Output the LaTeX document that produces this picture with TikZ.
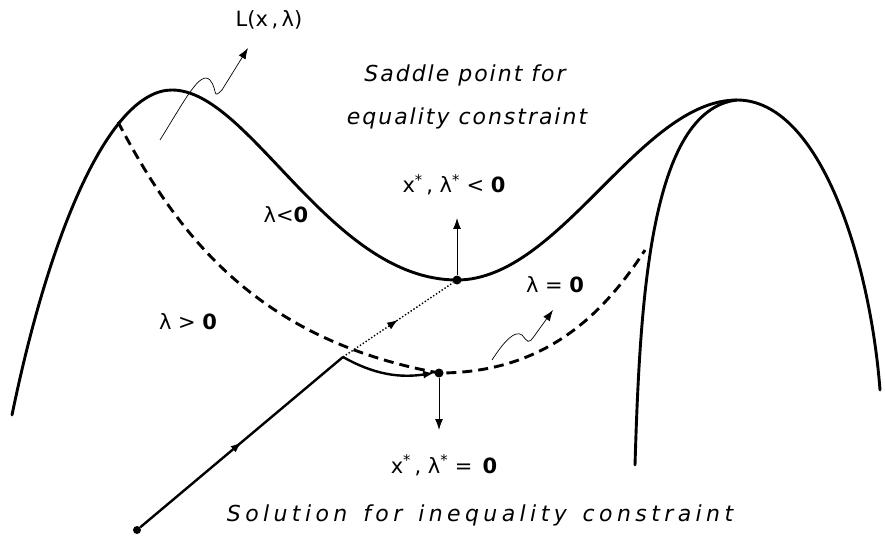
\documentclass[tikz,border=0pt]{standalone}
\usepackage{fontspec}
\setmainfont{DejaVu Sans}
\newfontfamily\wideface{DejaVu Sans}[LetterSpace=9]
\newfontfamily\widerface{DejaVu Sans}[LetterSpace=20, WordSpace=1.4]
\usetikzlibrary{arrows.meta, decorations.markings}
\tikzset{
  surface/.style={line width=2.9pt, line cap=round},
  ridge/.style={line width=2.9pt, dash pattern=on 10pt off 6pt},
  pointer/.style={-{Latex[length=11pt,width=8pt]}, line width=1pt},
  squiggle/.style={-{Latex[length=11pt,width=8pt]}, line width=0.7pt},
  track/.style={line width=2.4pt},
  midarrow/.style={postaction={decorate}, decoration={markings,
    mark=at position 0.5 with {\arrow{Latex[length=11pt,width=8pt]}}}},
  caption/.style={font=\wideface\fontsize{22}{25}\selectfont\itshape},
  lbl/.style={font=\fontsize{21}{24}\selectfont},
  dot/.style={circle, fill=black, inner sep=0pt, minimum size=9pt}
}

\begin{document}
\begin{tikzpicture}[x=1pt, y=-1pt]
  \useasboundingbox (0,0) rectangle (885,545);
  % labels
  \node[lbl] (lag) at (269,20) {L(x\,,\,λ)};
  \node[caption] (sad1) at (465,75) {Saddle point for};
  \node[caption] (sad2) at (467,118) {equality constraint};
  \node[lbl] (xneg) at (454,185) {x\textsuperscript{*}\,, λ\textsuperscript{*} < \textbf{0}};
  \node[lbl] (lamneg) at (286,215) {λ<\textbf{0}};
  \node[lbl] (lampos) at (188,322) {λ > \textbf{0}};
  \node[lbl] (lamzero) at (555,285) {λ = \textbf{0}};
  \node[lbl] (xzero) at (444,465) {x\textsuperscript{*}\,, λ\textsuperscript{*} = \,\textbf{0}};
  \node[font=\widerface\fontsize{22}{25}\selectfont\itshape] (sol) at (480,515) {Solution for inequality constraint};
  % points
  \node[dot] (saddle) at (457,280) {};
  \node[dot] (opt) at (439,373) {};
  \node[dot, minimum size=8pt] (start) at (137,530) {};
  \coordinate (kink) at (343,357);
  \coordinate (up) at (457,218);
  \coordinate (down) at (439,430);
  \coordinate (lagtip) at (248,48);
  \coordinate (zerotip) at (553,310);
  % surface L(x, lambda)
  \draw[surface] (12,415) .. controls (50,230) and (110,90) .. (172,90)
    .. controls (250,90) and (330,280) .. (saddle.center)
    .. controls (560,280) and (640,100) .. (737,100)
    .. controls (820,100) and (870,260) .. (880,390);
  \draw[surface] (635,465) .. controls (640,300) and (650,110) .. (737,100);
  % constraint curve
  \draw[ridge] (118,122) .. controls (180,240) and (260,340) .. (opt.center)
    .. controls (540,373) and (600,320) .. (645,250);
  % search path
  \draw[track, midarrow] (start) -- (kink);
  \draw[track, -{Latex[length=11pt,width=8pt]}] (kink) .. controls (375,375) and (400,378) .. (opt.west);
  \draw[line width=1.4pt, dotted, midarrow] (kink) -- (saddle);
  % pointers
  \draw[pointer] (saddle) -- (up);
  \draw[pointer] (opt) -- (down);
  \draw[squiggle] (160,140) .. controls (185,100) and (200,70) .. (210,80)
    .. controls (218,90) and (212,100) .. (222,90) -- (lagtip);
  \draw[squiggle] (492,360) .. controls (505,340) and (515,330) .. (522,335)
    .. controls (528,342) and (528,345) .. (535,335) -- (zerotip);
\end{tikzpicture}
\end{document}
